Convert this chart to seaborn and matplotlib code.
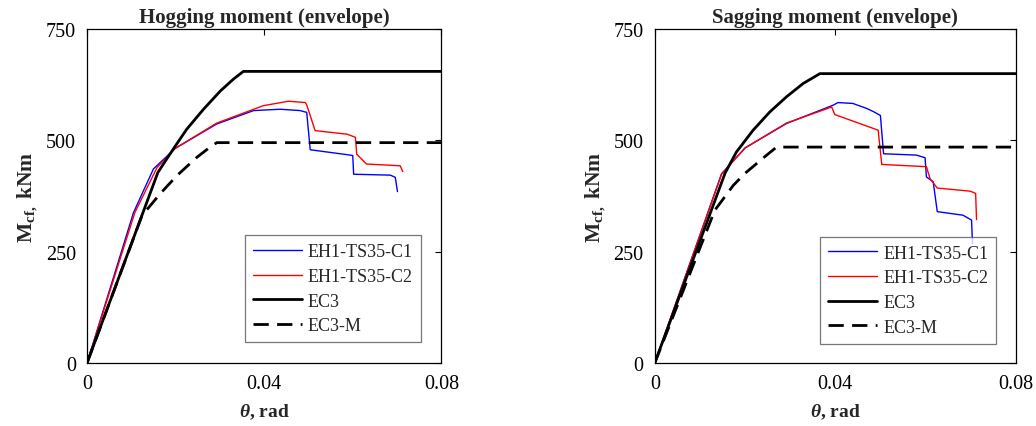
import matplotlib
matplotlib.use('Agg')
import matplotlib.pyplot as plt
import seaborn as sns
import pandas as pd

# Hogging moment (envelope) - rotation (rad) vs moment (kNm)
hog_c1_theta = [0, 0.0105, 0.0150, 0.0199, 0.0293, 0.0376, 0.0436, 0.0481, 0.0496, 0.0504,
                0.0587, 0.0600, 0.0602, 0.0685, 0.0696, 0.0701]
hog_c1_m = [0, 338, 436, 482, 537, 567, 570, 567, 563, 479, 468, 466, 424, 422, 417, 385]
hog_c2_theta = [0, 0.0108, 0.0158, 0.0199, 0.0293, 0.0398, 0.0455, 0.0493, 0.0496, 0.0515,
                0.0587, 0.0606, 0.0609, 0.0631, 0.0707, 0.0713]
hog_c2_m = [0, 338, 439, 482, 539, 578, 588, 585, 580, 522, 514, 507, 469, 447, 443, 430]
hog_ec3_theta = [0, 0.0160, 0.0195, 0.0225, 0.0263, 0.0301, 0.0331, 0.0353, 0.08]
hog_ec3_m = [0, 428, 481, 525, 570, 611, 638, 655, 655]
hog_ec3m_theta = [0, 0.0124, 0.0165, 0.0203, 0.0248, 0.0274, 0.0293, 0.08]
hog_ec3m_m = [0, 331, 380, 421, 462, 482, 495, 495]

# Sagging moment (envelope)
sag_c1_theta = [0, 0.0148, 0.0200, 0.0292, 0.0395, 0.0406, 0.0439, 0.0469, 0.0484, 0.0500,
                0.0507, 0.0580, 0.0599, 0.0602, 0.0617, 0.0626, 0.0683, 0.0702, 0.0704]
sag_c1_m = [0, 425, 483, 538, 579, 585, 583, 572, 565, 556, 470, 467, 461, 418, 407, 340,
            332, 321, 268]
sag_c2_theta = [0, 0.0148, 0.0200, 0.0292, 0.0392, 0.0399, 0.0495, 0.0503, 0.0602, 0.0610,
                0.0626, 0.0699, 0.0711, 0.0713]
sag_c2_m = [0, 424, 483, 539, 575, 558, 523, 446, 441, 414, 393, 386, 381, 322]
sag_ec3_theta = [0, 0.0156, 0.0181, 0.0218, 0.0255, 0.0292, 0.0329, 0.0366, 0.08]
sag_ec3_m = [0, 427, 474, 523, 564, 598, 628, 650, 650]
sag_ec3m_theta = [0, 0.0133, 0.0174, 0.0200, 0.0248, 0.0270, 0.08]
sag_ec3m_m = [0, 343, 399, 426, 467, 485, 485]

labels = ['EH1-TS35-C1', 'EH1-TS35-C2', 'EC3', 'EC3-M']
titles = ['Hogging moment (envelope)', 'Sagging moment (envelope)']
x_ticks = [0, 0.04, 0.08]
x_ticklabels = ['0', '0.04', '0.08']
y_ticks = [0, 250, 500, 750]

panels = [
    [(hog_c1_theta, hog_c1_m), (hog_c2_theta, hog_c2_m), (hog_ec3_theta, hog_ec3_m), (hog_ec3m_theta, hog_ec3m_m)],
    [(sag_c1_theta, sag_c1_m), (sag_c2_theta, sag_c2_m), (sag_ec3_theta, sag_ec3_m), (sag_ec3m_theta, sag_ec3m_m)],
]

styles = [
    dict(color='#0000ff', lw=1.0),
    dict(color='#ff0000', lw=1.0),
    dict(color='black', lw=2.0),
    dict(color='black', lw=2.0, dashes=(5.5, 3)),
]

sns.set_theme(style='white')
plt.rcParams['font.family'] = ['Liberation Serif', 'DejaVu Serif']
plt.rcParams['mathtext.fontset'] = 'custom'
plt.rcParams['mathtext.rm'] = 'Liberation Serif'
plt.rcParams['mathtext.bf'] = 'Liberation Serif:bold'
plt.rcParams['mathtext.it'] = 'Liberation Serif:italic:bold'

fig = plt.figure(figsize=(10.36, 4.27), dpi=100)
ax_pos = [[0.084, 0.1475, 0.342, 0.782], [0.632, 0.1475, 0.3485, 0.782]]
leg_anchor = [(0.943, 0.062), (0.946, 0.058)]

for i, series in enumerate(panels):
    ax = fig.add_axes(ax_pos[i])
    for (th, m), lab, st in zip(series, labels, styles):
        df = pd.DataFrame({'theta': th, 'M': m})
        sns.lineplot(data=df, x='theta', y='M', ax=ax, sort=False, estimator=None,
                     label=lab, **st)
    ax.set_xlim(0, 0.08)
    ax.set_ylim(0, 750)
    ax.set_xticks(x_ticks)
    ax.set_xticklabels(x_ticklabels)
    ax.set_yticks(y_ticks)
    ax.tick_params(direction='in', top=True, right=True, labelsize=14.5,
                   length=4, width=0.8, colors='black', pad=8)
    for sp in ax.spines.values():
        sp.set_color('black')
        sp.set_linewidth(0.9)
    ax.set_title(titles[i], fontsize=15, fontweight='bold', pad=5)
    ax.set_xlabel(r'$\theta$, rad', fontsize=14, fontweight='bold', labelpad=6)
    ax.set_ylabel(r'M$_{\mathbf{cf,}}$ kNm', fontsize=15.5, fontweight='bold', labelpad=4)
    leg = ax.legend(loc='lower right', bbox_to_anchor=leg_anchor[i], fontsize=13,
                    frameon=True, fancybox=False, edgecolor='#555555', borderaxespad=0,
                    handlelength=2.7, handletextpad=0.35, borderpad=0.45,
                    labelspacing=0.42)
    leg.get_frame().set_linewidth(0.9)

fig.savefig('out.png', dpi=100)
